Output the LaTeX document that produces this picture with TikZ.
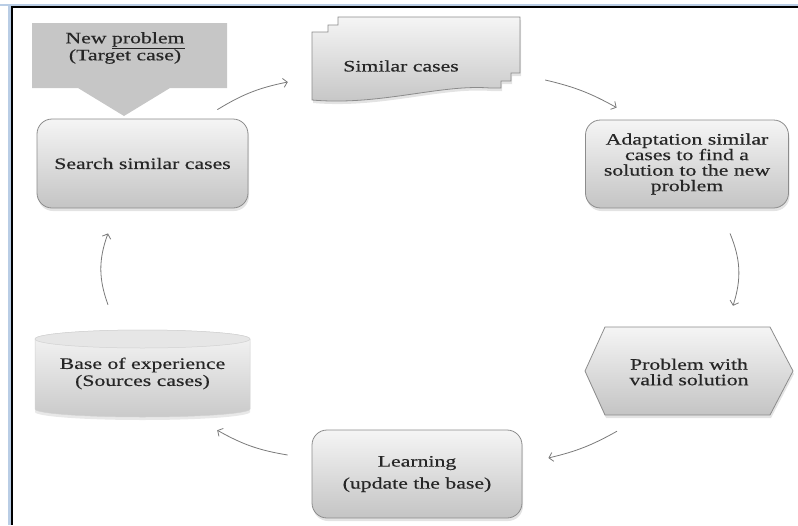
\documentclass[tikz,border=0pt]{standalone}
\usepackage{fontspec}
\setmainfont{Liberation Serif}[FakeStretch=1.36, FakeBold=0.4]
\usetikzlibrary{arrows.meta,shadows,backgrounds}
\definecolor{frameblue}{HTML}{B9CDE5}
\definecolor{boxline}{HTML}{8C8C8C}
\definecolor{boxtop}{HTML}{F5F5F5}
\definecolor{boxbot}{HTML}{C4C4C4}
\definecolor{arrowgray}{HTML}{7A7A7A}
\definecolor{blockgray}{HTML}{C6C6C6}
\tikzset{
  shapefill/.style={top color=boxtop, bottom color=boxbot, draw=boxline, line width=0.8pt,
    drop shadow={shadow xshift=1pt, shadow yshift=-3pt, opacity=0.22}},
  holder/.style={draw=none, inner sep=0pt, align=center, text=black!85},
  txt/.style={font=\fontsize{16pt}{#1}\selectfont},
  conn/.style={draw=arrowgray, line width=0.8pt, -{Straight Barb[length=4pt,width=9pt]}}
}
\begin{document}
\begin{tikzpicture}[x=1pt,y=-1pt]
\useasboundingbox (0,0) rectangle (798,525);
% frame
\fill[frameblue] (0,3.5) rectangle (798,6);
\fill[frameblue] (8,3.5) rectangle (10.5,525);
\fill[black] (10.5,6) rectangle (798,8);
\fill[black] (10.5,6) rectangle (12.5,525);

% new problem block arrow
\fill[blockgray] (32,23) -- (227,23) -- (227,88) -- (170,88) -- (124,116) -- (78,88) -- (32,88) -- cycle;
\node[holder, txt=17pt] (newp) at (125,48) {New \underline{problem}\\(Target case)};

% search similar cases
\node[holder, shapefill, rounded corners=15pt, minimum width=211pt, minimum height=89pt,
  txt=15pt] (search) at (142.5,163.5) {Search similar cases};

% similar cases (multi-document)
\path[shapefill] (312,32) -- (328,32) -- (328,25) -- (338,25) -- (338,17) -- (520,17)
  -- (520,73) -- (511,73) -- (511,81) -- (501,81) -- (501,88) -- (490,88)
  .. controls (440,84) and (380,106) .. (312,100) -- cycle;
\node[holder, minimum width=208pt, minimum height=84pt] (similar) at (416,58) {};
\node[holder, txt=15pt] (similartxt) at (401,66) {Similar cases};

% adaptation
\node[holder, shapefill, rounded corners=15pt, minimum width=203pt, minimum height=88pt,
  txt=15.5pt] (adapt) at (687,164) {Adaptation similar\\cases to find a\\solution to the new\\problem};

% problem with valid solution (hexagon)
\path[shapefill] (585,371) -- (605,327) -- (770,327) -- (793,371) -- (770,415) -- (605,415) -- cycle;
\node[holder, minimum width=208pt, minimum height=88pt, txt=15.5pt] (valid) at (689,372) {Problem with\\valid solution};

% learning
\node[holder, shapefill, rounded corners=15pt, minimum width=210pt, minimum height=88pt,
  txt=22pt] (learn) at (417,474) {Learning\\(update the base)};

% base of experience (cylinder)
\path[top color=boxtop, bottom color=boxbot!90, draw=gray!35, line width=0.5pt,
  drop shadow={shadow xshift=0pt, shadow yshift=-3pt, opacity=0.18}]
  (35,339) -- (35,409) arc[start angle=180, end angle=0, x radius=107.5, y radius=8]
  -- (250,339) arc[start angle=0, end angle=-180, x radius=107.5, y radius=9] -- cycle;
\path[fill=boxtop!70!boxbot, draw=gray!35, line width=0.5pt] (142.5,339) ellipse[x radius=107.5, y radius=9];
\node[holder, minimum width=215pt, minimum height=87pt, txt=17pt] (base) at (142.5,373.5) {Base of experience\\(Sources cases)};

% connectors
\draw[conn] ([xshift=-31pt,yshift=9pt]search.north east) to[bend left=10] ([xshift=-24pt,yshift=-24pt]similar.west);
\draw[conn] ([xshift=25pt,yshift=-22pt]similar.east) to[bend left=8] ([xshift=31.5pt,yshift=12pt]adapt.north west);
\draw[conn] ([xshift=43pt,yshift=-25pt]adapt.south) to[bend left=20] ([xshift=44pt,yshift=22pt]valid.north);
\draw[conn] ([xshift=-72pt,yshift=-15pt]valid.south) to[bend left=8] ([xshift=26pt,yshift=16pt]learn.east);
\draw[conn] ([xshift=-24pt,yshift=19pt]learn.west) to[bend left=10] ([xshift=-33pt,yshift=-13pt]base.south east);
\draw[conn] ([xshift=-34.5pt,yshift=25pt]base.north) to[bend left=20] ([xshift=-34.5pt,yshift=-25pt]search.south);
\end{tikzpicture}
\end{document}
